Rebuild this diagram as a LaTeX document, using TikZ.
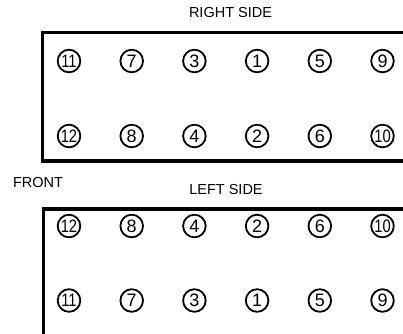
\documentclass[tikz,border=0pt]{standalone}
\usepackage{fontspec}
\setmainfont{Liberation Sans}
\newcommand{\boltnum}[1]{\ifnum#1>9 \scalebox{0.82}[1]{#1}\else #1\fi}
\begin{document}
\begin{tikzpicture}[x=1pt,y=-1pt,
  boltc/.style={circle,draw=black,line width=1.8pt,minimum size=22.6pt,inner sep=0pt,font=\fontsize{18}{18}\selectfont},
  boxline/.style={draw=black,line width=3.2pt},
  lbl/.style={font=\fontsize{14.5}{16}\selectfont,inner sep=0pt}]
\useasboundingbox (0,0) rectangle (403,333);
\clip (0,0) rectangle (403,333);
% labels
\node[lbl] (rs) at (230.5,13) {RIGHT SIDE};
\node[lbl] (fr) at (38,182.5) {FRONT};
\node[lbl] (ls) at (226,190) {LEFT SIDE};
% boxes
\draw[boxline] (420,32.8) -- (42.8,32.8) -- (42.8,161) -- (420,161);
\draw[boxline] (420,209) -- (43.8,209) -- (43.8,345);
% top box bolts
\foreach \n [count=\i from 0] in {11,7,3,1,5,9}
  \node[boltc] (ta\n) at (69+62.7*\i,61) {\boltnum{\n}};
\foreach \n [count=\i from 0] in {12,8,4,2,6,10}
  \node[boltc] (tb\n) at (69+62.7*\i,136) {\boltnum{\n}};
% bottom box bolts
\foreach \n [count=\i from 0] in {12,8,4,2,6,10}
  \node[boltc] (ba\n) at (69+62.7*\i,226) {\boltnum{\n}};
\foreach \n [count=\i from 0] in {11,7,3,1,5,9}
  \node[boltc] (bb\n) at (69+62.7*\i,300.5) {\boltnum{\n}};
\end{tikzpicture}
\end{document}
